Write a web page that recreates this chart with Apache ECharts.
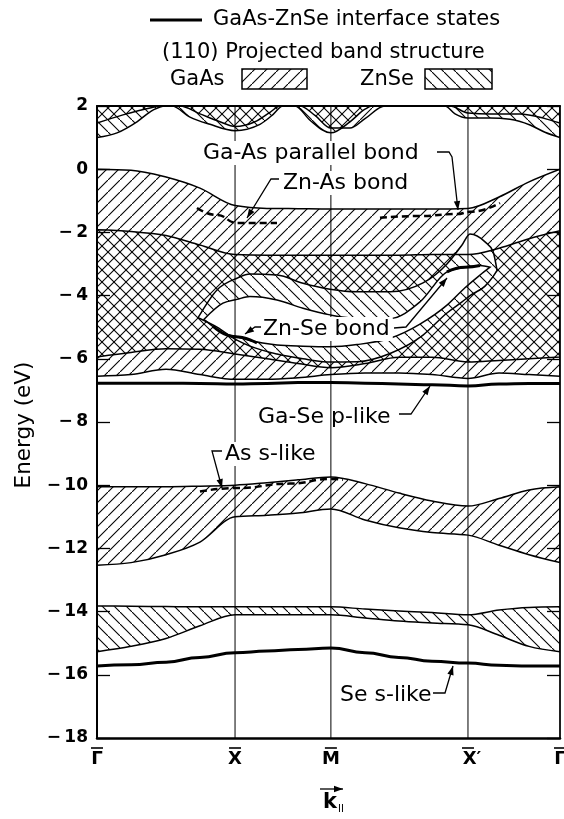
<!DOCTYPE html>
<html><head><meta charset="utf-8">
<script src="https://cdn.jsdelivr.net/npm/echarts/dist/echarts.min.js"></script>
<style>html,body{margin:0;padding:0;background:#fff}#c{width:564px;height:819px}</style>
</head><body><div id="c"></div>
<script>
// ---------------- DATA ----------------
const Y_MIN = -18, Y_MAX = 2, Y_STEP = 2;
const K_MAX = 4.83;
const K_SYM = [0, 1.44, 2.44, 3.87, 4.83];
const K_NAMES = ['Γ', 'X', 'M', 'X′', 'Γ'];

// common k sampling for most boundaries
const K15 = [0, 0.355, 0.72, 1.074, 1.44, 1.773, 2.097, 2.44, 2.796, 3.15, 3.495, 3.87, 4.194, 4.507, 4.83];

// GaAs valence band (projected)
const GAAS_VB_TOP = [0, -0.03, -0.25, -0.6, -1.15, -1.24, -1.25, -1.26, -1.26, -1.26, -1.26, -1.24, -0.88, -0.4, 0];
const GAAS_VB_BOT = [-6.55, -6.5, -6.33, -6.5, -6.65, -6.65, -6.6, -6.5, -6.45, -6.45, -6.5, -6.62, -6.45, -6.5, -6.55];
// GaAs "stomach" gap inside the valence band
const GAAS_GAP_K   = [1.054, 1.252, 1.46, 1.596, 1.878, 2.149, 2.431, 2.712, 3.057, 3.401, 3.651, 3.808, 3.891, 4.048, 4.131, 4.173];
const GAAS_GAP_TOP = [-4.7, -3.82, -3.45, -3.32, -3.35, -3.61, -3.8, -3.88, -3.88, -3.6, -3.0, -2.4, -2.05, -2.3, -2.6, -3.2];
const GAAS_GAP_BOT = [-4.7, -5.0, -5.41, -5.6, -5.85, -6.0, -6.1, -6.09, -5.83, -5.25, -4.55, -4.2, -4.0, -3.7, -3.4, -3.2];

// ZnSe valence band (projected)
const ZNSE_VB_TOP = [-1.92, -1.97, -2.1, -2.4, -2.7, -2.72, -2.72, -2.72, -2.72, -2.72, -2.7, -2.7, -2.5, -2.2, -1.95];
const ZNSE_VB_BOT = [-5.94, -5.8, -5.68, -5.7, -5.85, -6.0, -6.15, -6.28, -6.15, -5.95, -5.95, -6.1, -6.05, -6.0, -5.94];
const ZNSE_GAP_K   = [1.116, 1.314, 1.46, 1.596, 1.878, 2.149, 2.431, 2.712, 3.057, 3.369, 3.651, 3.839, 3.995, 4.1];
const ZNSE_GAP_TOP = [-4.75, -4.24, -4.12, -4.03, -4.14, -4.4, -4.61, -4.72, -4.72, -4.2, -3.25, -3.1, -3.05, -3.1];
const ZNSE_GAP_BOT = [-4.75, -5.19, -5.3, -5.42, -5.56, -5.6, -5.62, -5.55, -5.35, -4.9, -4.3, -3.75, -3.35, -3.1];

// As s band (GaAs) and Se s band (ZnSe)
const GAAS_S_TOP = [-10.05, -10.05, -10.05, -10.03, -10.0, -9.92, -9.83, -9.74, -9.95, -10.25, -10.5, -10.66, -10.42, -10.15, -10.05];
const GAAS_S_BOT = [-12.53, -12.45, -12.2, -11.8, -11.0, -10.95, -10.88, -10.75, -11.1, -11.35, -11.5, -11.58, -11.9, -12.2, -12.45];
const ZNSE_S_TOP = [-13.82, -13.83, -13.84, -13.85, -13.85, -13.85, -13.85, -13.85, -13.92, -13.98, -14.03, -14.1, -13.95, -13.87, -13.85];
const ZNSE_S_BOT = [-15.27, -15.1, -14.85, -14.45, -14.1, -14.1, -14.1, -14.1, -14.2, -14.3, -14.36, -14.42, -14.75, -15.1, -15.27];

// conduction bands (lower edges; upper edge is the top of the frame)
const GAAS_CB_K   = [0, 0.271, 0.553, 0.657, 0.866, 1.074, 1.283, 1.44, 1.648, 1.805, 1.909, 2.118, 2.274, 2.44, 2.639, 2.796, 3.004, 3.682, 3.87, 4.1, 4.413, 4.673, 4.83];
const GAAS_CB_BOT = [1.46, 1.72, 1.94, 2.0, 2.0, 1.75, 1.5, 1.35, 1.5, 1.8, 2.0, 2.0, 1.7, 1.3, 1.3, 1.6, 2.0, 2.0, 1.78, 1.75, 1.75, 1.6, 1.46];
const ZNSE_CB_K   = [0, 0.209, 0.417, 0.584, 0.709, 0.782, 0.97, 1.179, 1.44, 1.7, 1.825, 1.94, 2.066, 2.222, 2.44, 2.639, 2.796, 2.869, 3.63, 3.735, 3.87, 4.1, 4.308, 4.517, 4.673, 4.83];
const ZNSE_CB_BOT = [1.0, 1.15, 1.5, 1.87, 2.0, 2.0, 1.65, 1.42, 1.22, 1.42, 1.7, 2.0, 2.0, 1.55, 1.15, 1.5, 1.9, 2.0, 2.0, 1.75, 1.62, 1.62, 1.58, 1.4, 1.17, 1.0];

// GaAs-ZnSe interface states
const IF_GASE_P   = [-6.77, -6.77, -6.77, -6.78, -6.8, -6.78, -6.75, -6.75, -6.77, -6.8, -6.82, -6.86, -6.8, -6.78, -6.78];
const IF_SE_S     = [-15.72, -15.68, -15.6, -15.45, -15.3, -15.25, -15.2, -15.15, -15.3, -15.45, -15.57, -15.63, -15.7, -15.72, -15.72];
const IF_ZNSE_L_K = [1.21, 1.44, 1.669];
const IF_ZNSE_L_E = [-4.97, -5.3, -5.5];
const IF_ZNSE_R_K = [3.651, 3.839, 3.995];
const IF_ZNSE_R_E = [-3.25, -3.1, -3.05];
const IF_ZNAS_K   = [1.043, 1.25, 1.46, 1.878];
const IF_ZNAS_E   = [-1.23, -1.45, -1.7, -1.7];
const IF_GAAS_K   = [2.952, 3.369, 3.755, 3.891, 4.204];
const IF_GAAS_E   = [-1.54, -1.48, -1.42, -1.35, -1.07];
const IF_AS_S_K   = [1.074, 1.46, 2.013, 2.44, 2.566];
const IF_AS_S_E   = [-10.2, -10.09, -9.95, -9.8, -9.83];

// ---------------- RENDERING ----------------
const FONT = '"DejaVu Sans", sans-serif';
function hatchCanvas(dir) {
  const s = 12, c = document.createElement('canvas');
  c.width = s; c.height = s;
  const g = c.getContext('2d');
  g.strokeStyle = '#000'; g.lineWidth = 1.1; g.beginPath();
  if (dir > 0) { g.moveTo(-2, s + 2); g.lineTo(s + 2, -2); }
  else { g.moveTo(-2, -2); g.lineTo(s + 2, s + 2); }
  g.stroke();
  return c;
}
const SLASH = { image: hatchCanvas(1), repeat: 'repeat' };
const BACK = { image: hatchCanvas(-1), repeat: 'repeat' };

function monoSegs(P) {
  const n = P.length, m = new Array(n).fill(0), s = [];
  for (let i = 0; i < n - 1; i++) { const h = P[i + 1][0] - P[i][0]; s.push(h ? (P[i + 1][1] - P[i][1]) / h : 0); }
  for (let i = 1; i < n - 1; i++) {
    const h0 = P[i][0] - P[i - 1][0], h1 = P[i + 1][0] - P[i][0];
    const p = (s[i - 1] * h1 + s[i] * h0) / (h0 + h1);
    m[i] = (Math.sign(s[i - 1]) + Math.sign(s[i])) * Math.min(Math.abs(s[i - 1]), Math.abs(s[i]), 0.5 * Math.abs(p)) || 0;
  }
  if (n > 2) { m[0] = (3 * s[0] - m[1]) / 2; m[n - 1] = (3 * s[n - 2] - m[n - 2]) / 2; }
  else { m[0] = m[n - 1] = s[0]; }
  const segs = [];
  for (let i = 0; i < n - 1; i++) {
    const h = (P[i + 1][0] - P[i][0]) / 3;
    segs.push([P[i], [P[i][0] + h, P[i][1] + m[i] * h], [P[i + 1][0] - h, P[i + 1][1] - m[i + 1] * h], P[i + 1]]);
  }
  return segs;
}
const pt = p => p[0].toFixed(2) + ',' + p[1].toFixed(2);
function fwd(P) { return monoSegs(P).map(s => 'C' + pt(s[1]) + ' ' + pt(s[2]) + ' ' + pt(s[3])).join(' '); }
function bwd(P) { return monoSegs(P).reverse().map(s => 'C' + pt(s[2]) + ' ' + pt(s[1]) + ' ' + pt(s[0])).join(' '); }
function band(t, b) { return 'M' + pt(t[0]) + ' ' + fwd(t) + ' L' + pt(b[b.length - 1]) + ' ' + bwd(b) + ' Z'; }
function hole(t, b) { return 'M' + pt(b[0]) + ' ' + fwd(b) + ' L' + pt(t[t.length - 1]) + ' ' + bwd(t) + ' Z'; }

function regionSeries(name, parts, fill) {
  return {
    type: 'custom', name, clip: true, silent: true, z: 2,
    data: [[parts[0].k[0], parts[0].bot[0]]],
    renderItem: (params, api) => {
      const P = (ks, es) => ks.map((k, i) => api.coord([k, es[i]]));
      let d = '';
      parts.forEach(p => {
        const top = p.top ? P(p.k, p.top) : P([p.k[0], p.k[p.k.length - 1]], [Y_MAX, Y_MAX]);
        const bot = P(p.k, p.bot);
        d += (p.hole ? hole(top, bot) : band(top, bot)) + ' ';
      });
      return { type: 'path', shape: { pathData: d }, style: { fill, stroke: '#000', lineWidth: 1.5 } };
    }
  };
}
function lineSeries(name, ks, es, width, dashed) {
  return {
    type: 'line', name, data: ks.map((k, i) => [k, es[i]]), smooth: true, smoothMonotone: 'x',
    showSymbol: false, symbol: 'none', silent: true, z: 5,
    lineStyle: { color: '#000', width, type: dashed ? [7, 4] : 'solid' }
  };
}

const series = [
  regionSeries('GaAs CB', [{ k: GAAS_CB_K, bot: GAAS_CB_BOT }], SLASH),
  regionSeries('ZnSe CB', [{ k: ZNSE_CB_K, bot: ZNSE_CB_BOT }], BACK),
  regionSeries('GaAs VB', [{ k: K15, top: GAAS_VB_TOP, bot: GAAS_VB_BOT },
                           { k: GAAS_GAP_K, top: GAAS_GAP_TOP, bot: GAAS_GAP_BOT, hole: true }], SLASH),
  regionSeries('ZnSe VB', [{ k: K15, top: ZNSE_VB_TOP, bot: ZNSE_VB_BOT },
                           { k: ZNSE_GAP_K, top: ZNSE_GAP_TOP, bot: ZNSE_GAP_BOT, hole: true }], BACK),
  regionSeries('GaAs s', [{ k: K15, top: GAAS_S_TOP, bot: GAAS_S_BOT }], SLASH),
  regionSeries('ZnSe s', [{ k: K15, top: ZNSE_S_TOP, bot: ZNSE_S_BOT }], BACK),
  {
    type: 'custom', name: 'sym', clip: false, silent: true, z: 3,
    data: K_SYM.map((k, i) => [k, i]),
    renderItem: (params, api) => {
      const k = api.value(0), i = api.value(1);
      const top = api.coord([k, Y_MAX]), bot = api.coord([k, Y_MIN]);
      const name = K_NAMES[i];
      return { type: 'group', children: [
        { type: 'line', shape: { x1: top[0], y1: top[1], x2: bot[0], y2: bot[1] }, style: { stroke: '#000', lineWidth: 1 } },
        { type: 'text', x: bot[0] + (name.length > 1 ? 4 : 0), y: bot[1] + 21,
          style: { text: name, font: 'bold 18px "DejaVu Sans"', align: 'center', verticalAlign: 'middle', fill: '#000' } },
        { type: 'line', shape: { x1: bot[0] - 6, y1: bot[1] + 10, x2: bot[0] + 6, y2: bot[1] + 10 }, style: { stroke: '#000', lineWidth: 1.6 } }
      ] };
    }
  },
  lineSeries('Ga-Se p-like', K15, IF_GASE_P, 3),
  lineSeries('Se s-like', K15, IF_SE_S, 3),
  lineSeries('Zn-Se bond L', IF_ZNSE_L_K, IF_ZNSE_L_E, 3),
  lineSeries('Zn-Se bond R', IF_ZNSE_R_K, IF_ZNSE_R_E, 3),
  lineSeries('Zn-As bond', IF_ZNAS_K, IF_ZNAS_E, 2.5, true),
  lineSeries('Ga-As parallel bond', IF_GAAS_K, IF_GAAS_E, 2.5, true),
  lineSeries('As s-like', IF_AS_S_K, IF_AS_S_E, 2.5, true)
];

// ---------------- annotations ----------------
function leader(pts) {
  const n = pts.length, [x1, y1] = pts[n - 2], [x2, y2] = pts[n - 1];
  const a = Math.atan2(y2 - y1, x2 - x1), L = 9, W = 3.2;
  const p1 = [x2 - L * Math.cos(a) + W * Math.sin(a), y2 - L * Math.sin(a) - W * Math.cos(a)];
  const p2 = [x2 - L * Math.cos(a) - W * Math.sin(a), y2 - L * Math.sin(a) + W * Math.cos(a)];
  return [
    { type: 'polyline', z: 30, shape: { points: pts }, style: { stroke: '#000', lineWidth: 1.3, fill: null } },
    { type: 'polygon', z: 30, shape: { points: [[x2, y2], p1, p2] }, style: { fill: '#000' } }
  ];
}
function label(text, x, y, bg, size) {
  return { type: 'text', z: 25, x, y, style: { text, font: (size || 22) + 'px ' + FONT, fill: '#000',
    verticalAlign: 'middle', align: 'left', backgroundColor: bg ? '#fff' : null, padding: bg ? [1, 3] : 0 } };
}
const graphic = [
  { type: 'line', shape: { x1: 150, y1: 20, x2: 202, y2: 20 }, style: { stroke: '#000', lineWidth: 3 } },
  label('GaAs-ZnSe interface states', 213, 20, false, 21),
  label('(110) Projected band structure', 162, 53, false, 21),
  label('GaAs', 170, 80, false, 21),
  { type: 'rect', shape: { x: 242, y: 69, width: 65, height: 20 }, style: { fill: SLASH, stroke: '#000', lineWidth: 1.5 } },
  label('ZnSe', 360, 80, false, 21),
  { type: 'rect', shape: { x: 425, y: 69, width: 67, height: 20 }, style: { fill: BACK, stroke: '#000', lineWidth: 1.5 } },
  label('Ga-As parallel bond', 200, 153, true),
  label('Zn-As bond', 280, 183, true),
  label('Zn-Se bond', 260, 329, true),
  label('Ga-Se p-like', 258, 417, false),
  label('As s-like', 222, 454, true),
  label('Se s-like', 340, 695, false),
  ...leader([[437, 152], [449, 152], [452, 157], [458, 210]]),
  ...leader([[279, 179], [271, 179], [247, 218]]),
  ...leader([[261, 327], [255, 327], [245, 334]]),
  ...leader([[394, 328], [406, 327], [447, 278]]),
  ...leader([[399, 414], [411, 414], [430, 386]]),
  ...leader([[222, 451], [212, 451], [222, 488]]),
  ...leader([[433, 693], [445, 693], [453, 666]]),
  { type: 'text', z: 25, x: 24, y: 425, rotation: Math.PI / 2,
    style: { text: 'Energy (eV)', font: '21.5px ' + FONT, fill: '#000', align: 'center', verticalAlign: 'middle' } },
  { type: 'text', z: 25, x: 323, y: 803,
    style: { text: '{k|k}{s|II}', font: '21px ' + FONT, fill: '#000', align: 'left', verticalAlign: 'middle',
      rich: { k: { font: 'bold 21px ' + FONT }, s: { font: '10px ' + FONT, padding: [12, 0, 0, 1] } } } },
  ...leader([[320, 789], [343, 789]])
];

const chart = echarts.init(document.getElementById('c'));
const axisOff = { axisTick: { show: false }, axisLabel: { show: false }, splitLine: { show: false } };
chart.setOption({
  animation: false,
  backgroundColor: '#fff',
  grid: { left: 97, right: 4, top: 106, bottom: 81 },
  xAxis: [
    Object.assign({ type: 'value', min: 0, max: K_MAX, position: 'bottom',
      axisLine: { onZero: false, lineStyle: { color: '#000', width: 2.5 } } }, axisOff),
    Object.assign({ type: 'value', min: 0, max: K_MAX, position: 'top',
      axisLine: { onZero: false, lineStyle: { color: '#000', width: 2 } } }, axisOff)
  ],
  yAxis: [
    { type: 'value', min: Y_MIN, max: Y_MAX, interval: Y_STEP, position: 'left',
      axisLine: { show: true, onZero: false, lineStyle: { color: '#000', width: 2 } },
      axisTick: { show: true, inside: true, length: 13, lineStyle: { color: '#000', width: 1.3 } },
      splitLine: { show: false },
      axisLabel: { color: '#000', fontSize: 17, fontWeight: 'bold', fontFamily: FONT, margin: 9,
        formatter: v => v < 0 ? '\u2212\u2009' + (-v) : String(v) } },
    { type: 'value', min: Y_MIN, max: Y_MAX, interval: Y_STEP, position: 'right',
      axisLine: { show: true, onZero: false, lineStyle: { color: '#000', width: 1.5 } },
      axisTick: { show: true, inside: true, length: 13, lineStyle: { color: '#000', width: 1.3 } },
      splitLine: { show: false }, axisLabel: { show: false } }
  ],
  series,
  graphic
});
</script></body></html>
